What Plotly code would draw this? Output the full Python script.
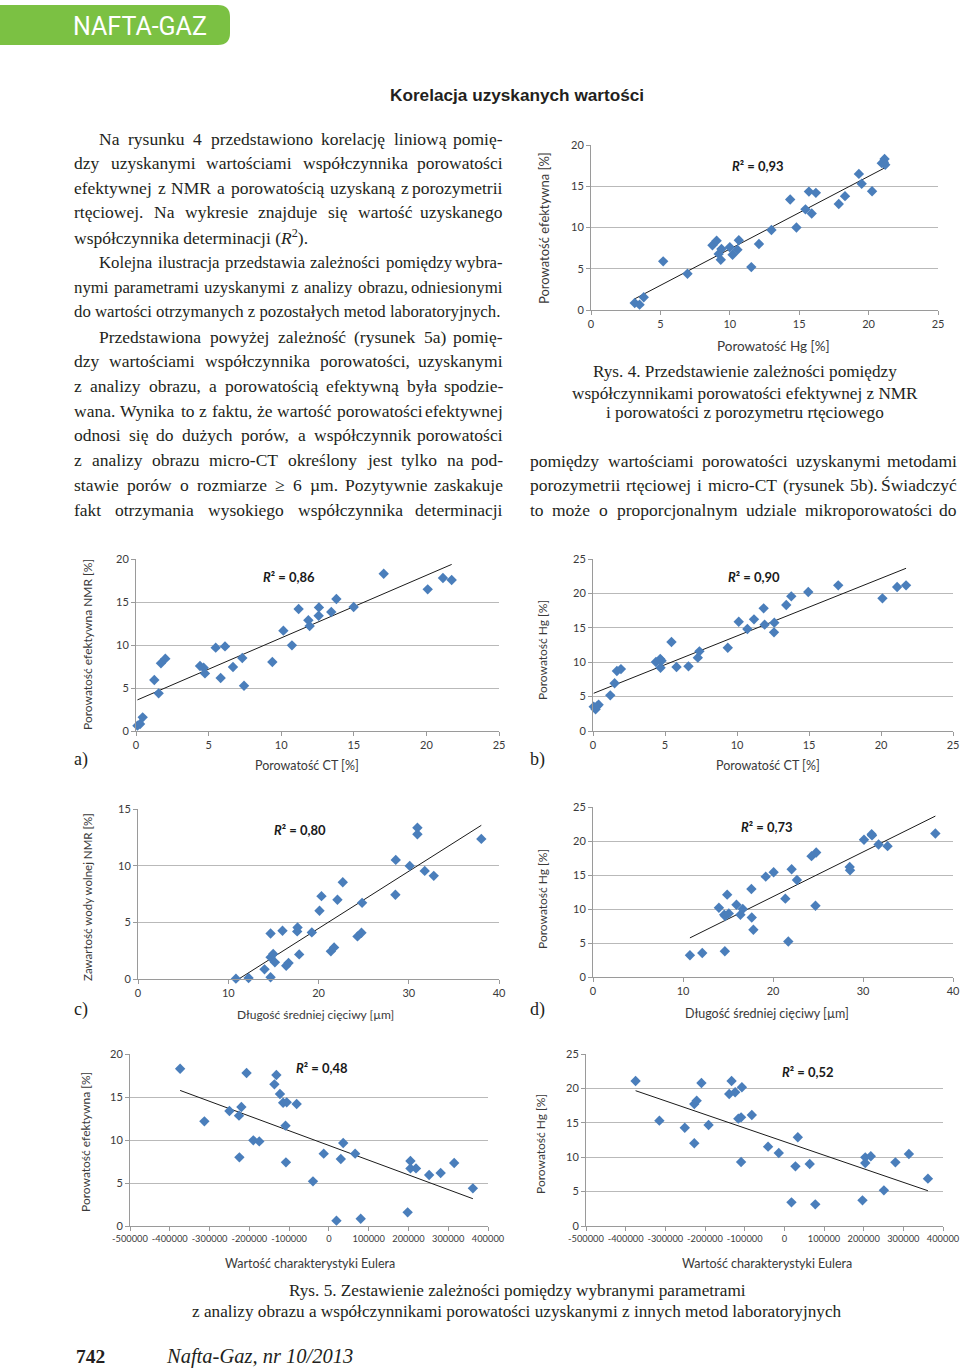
import numpy as np
import plotly.graph_objects as go

W, H = 960, 1370

# ---------------- DATA ----------------
# Rys. 4: porowatość Hg vs porowatość efektywna (NMR)
HG_4 = [3.15, 3.5, 3.8, 5.2, 6.95, 8.75, 9.05, 9.2, 9.35, 9.4, 10.0, 10.2, 10.55, 10.65,
        11.55, 12.1, 13.0, 14.35, 14.8, 15.45, 15.7, 15.9, 16.2, 17.85, 18.3, 19.3, 19.5,
        20.25, 20.95, 21.1, 21.15, 21.2]
EFF_4 = [0.85, 0.65, 1.55, 5.9, 4.4, 7.85, 8.4, 6.8, 6.1, 7.4, 7.6, 6.7, 7.3, 8.45,
         5.2, 8.0, 9.7, 13.4, 10.0, 12.2, 14.35, 11.7, 14.2, 12.85, 13.8, 16.5, 15.3,
         14.4, 17.8, 17.9, 18.3, 17.6]

# Rys. 5a: porowatość CT vs porowatość efektywna NMR
CT_A = [0.1, 0.28, 0.46, 1.26, 1.56, 1.72, 2.02, 4.41, 4.66, 4.75, 5.49, 5.83, 6.13, 6.68,
        7.32, 7.44, 9.39, 10.15, 10.74, 11.2, 11.87, 11.96, 12.58, 12.6, 13.45, 13.8,
        14.99, 17.06, 20.09, 21.14, 21.74]
NMR_A = [0.62, 0.81, 1.59, 5.93, 4.38, 7.87, 8.41, 7.56, 7.36, 6.7, 9.69, 6.16, 9.84, 7.44,
         8.49, 5.27, 8.02, 11.67, 9.96, 14.19, 12.87, 12.2, 13.4, 14.37, 13.84, 15.35,
         14.42, 18.29, 16.47, 17.79, 17.56]

# Rys. 5b: porowatość CT vs porowatość Hg
CT_B = [0.05, 0.18, 0.3, 0.39, 1.2, 1.5, 1.66, 1.94, 4.37, 4.67, 4.69, 4.76, 5.45, 5.8,
        6.63, 7.28, 7.39, 9.36, 10.12, 10.72, 11.18, 11.85, 11.92, 12.57, 12.59, 13.42,
        13.77, 14.95, 17.03, 20.1, 21.12, 21.74]
HG_B = [3.54, 3.15, 3.63, 3.83, 5.18, 6.93, 8.72, 9.0, 10.03, 10.47, 9.2, 10.22, 12.94, 9.3,
        9.4, 10.66, 11.58, 12.11, 15.89, 14.83, 16.23, 17.83, 15.46, 14.34, 15.75, 18.31,
        19.57, 20.2, 21.17, 19.28, 20.93, 21.17]

# Rys. 5c: długość średniej cięciwy vs zawartość wody wolnej NMR
CHORD_C = [10.85, 12.25, 14.02, 14.69, 14.69, 14.69, 14.98, 15.17, 16.01, 16.42, 16.68,
           17.64, 17.68, 17.86, 19.26, 20.11, 20.33, 21.37, 21.73, 22.1, 22.69, 24.32,
           24.76, 24.83, 28.56, 28.52, 30.11, 30.96, 30.96, 31.77, 32.77, 38.04]
WATER_C = [0.03, 0.09, 0.85, 0.15, 4.02, 1.91, 2.2, 1.47, 4.26, 1.17, 1.41, 4.2, 4.55,
           2.17, 4.11, 6.02, 7.31, 2.44, 2.79, 6.99, 8.54, 3.76, 4.08, 6.72, 10.51, 7.43,
           9.98, 13.35, 12.77, 9.54, 9.1, 12.36]

# Rys. 5d: długość średniej cięciwy vs porowatość Hg
CHORD_D = [10.77, 12.14, 13.99, 14.58, 14.65, 14.69, 14.91, 15.09, 15.94, 16.38, 16.64,
           17.6, 17.64, 17.82, 19.19, 20.07, 21.37, 21.7, 22.07, 22.66, 24.28, 24.8,
           24.72, 28.52, 28.56, 30.11, 30.96, 31.0, 31.73, 32.73, 38.04]
HG_D = [3.2, 3.54, 10.19, 9.15, 3.79, 8.96, 12.11, 9.35, 10.63, 9.15, 9.99, 12.94, 8.76,
        6.94, 14.76, 15.4, 11.52, 5.22, 15.85, 14.27, 17.77, 18.31, 10.48, 16.19, 15.7,
        20.18, 21.01, 20.82, 19.49, 19.24, 21.11]

# Rys. 5e: charakterystyka Eulera vs porowatość efektywna
EULER_E = [-374000, -313000, -250000, -226000, -220000, -225000, -207000, -190000, -175000,
           -137000, -132000, -123000, -115000, -106000, -109000, -108000, -81000, -40000,
           -13000, 19000, 30000, 36000, 66000, 80000, 198000, 205000, 205000, 219000,
           252000, 281000, 315000, 362000]
EFF_E = [18.29, 12.17, 13.37, 12.83, 13.84, 7.98, 17.79, 9.96, 9.84, 16.47, 17.56, 15.35,
         14.34, 14.38, 11.67, 7.4, 14.19, 5.19, 8.41, 0.62, 7.79, 9.65, 8.41, 0.85, 1.59,
         7.56, 6.7, 6.7, 5.93, 6.16, 7.33, 4.38]

# Rys. 5f: charakterystyka Eulera vs porowatość Hg
EULER_F = [-375000, -315000, -251000, -227000, -227000, -221000, -209000, -191000, -139000,
           -133000, -124000, -116000, -109000, -109000, -107000, -82000, -41000, -14000,
           18000, 28000, 34000, 64000, 78000, 197000, 204000, 204000, 218000, 251000,
           280000, 314000, 362000]
HG_F = [21.08, 15.31, 14.29, 12.02, 17.73, 18.22, 20.78, 14.68, 19.19, 21.08, 19.43, 15.6,
        15.79, 9.3, 20.16, 16.13, 11.53, 10.61, 3.44, 8.67, 12.89, 9.01, 3.15, 3.73, 9.98,
        9.16, 10.13, 5.18, 9.25, 10.47, 6.88]

EULER_TICKS = [-500000, -400000, -300000, -200000, -100000, 0, 100000, 200000, 300000, 400000]
R2_LABELS = ["0,93", "0,86", "0,90", "0,80", "0,73", "0,48", "0,52"]


# ---------------- HELPERS ----------------
def px(x):
    return x / W


def py(y):
    return 1 - y / H


SANS = "Lato, 'Open Sans', sans-serif"
SERIF = "'Liberation Serif', 'Times New Roman', serif"
MARK = "#4a7ebb"
GRID = "#b9b9b9"
AXL = "#9a9a9a"
TXT = "#231f20"

charts = [
    dict(x=HG_4, y=EFF_4, box=(591, 938, 145, 310), xr=25, xd=5, yr=20, yd=5,
         r2=(758, 166), xt="Porowatość Hg [%]", xtp=(773, 346),
         yt="Porowatość efektywna [%]", ytp=(544, 228), tfs=13.5),
    dict(x=CT_A, y=NMR_A, box=(136, 499, 559, 731), xr=25, xd=5, yr=20, yd=5,
         r2=(289, 577), xt="Porowatość CT [%]", xtp=(307, 765),
         yt="Porowatość efektywna NMR [%]", ytp=(87, 645), tfs=12.5),
    dict(x=CT_B, y=HG_B, box=(593, 953, 559, 731), xr=25, xd=5, yr=25, yd=5,
         r2=(754, 577), xt="Porowatość CT [%]", xtp=(768, 765),
         yt="Porowatość Hg [%]", ytp=(542, 650), tfs=12.5),
    dict(x=CHORD_C, y=WATER_C, box=(138, 499, 809, 979), xr=40, xd=10, yr=15, yd=5,
         r2=(300, 830), xt="Długość średniej cięciwy [µm]", xtp=(315, 1014),
         yt="Zawartość wody wolnej NMR [%]", ytp=(87, 897), tfs=12),
    dict(x=CHORD_D, y=HG_D, box=(593, 953, 807, 977), xr=40, xd=10, yr=25, yd=5,
         r2=(767, 827), xt="Długość średniej cięciwy [µm]", xtp=(767, 1013),
         yt="Porowatość Hg [%]", ytp=(542, 899), tfs=12.5),
    dict(x=EULER_E, y=EFF_E, box=(130, 488, 1054, 1226), xr=None, xd=None, yr=20, yd=5,
         r2=(322, 1068), xt="Wartość charakterystyki Eulera", xtp=(310, 1263),
         yt="Porowatość efektywna [%]", ytp=(85, 1142), tfs=12.5),
    dict(x=EULER_F, y=HG_F, box=(586, 943, 1054, 1226), xr=None, xd=None, yr=25, yd=5,
         r2=(808, 1072), xt="Wartość charakterystyki Eulera", xtp=(767, 1263),
         yt="Porowatość Hg [%]", ytp=(540, 1144), tfs=12.5),
]

fig = go.Figure()
annotations = []
layout_axes = {}


def ann(x, y, text, size, family=SERIF, anchor="left", color=TXT, angle=0):
    annotations.append(dict(x=px(x), y=py(y), xref="paper", yref="paper", text=text,
                            showarrow=False, xanchor=anchor, yanchor="middle",
                            textangle=angle, borderpad=0,
                            font=dict(family=family, size=size, color=color)))


for i, c in enumerate(charts, start=1):
    xa = "x" if i == 1 else f"x{i}"
    ya = "y" if i == 1 else f"y{i}"
    xkey = "xaxis" if i == 1 else f"xaxis{i}"
    ykey = "yaxis" if i == 1 else f"yaxis{i}"
    x0, x1, y0, y1 = c["box"]

    # linear trend line fitted to the data (least squares)
    xs = np.array(c["x"], dtype=float)
    ys = np.array(c["y"], dtype=float)
    k, b = np.polyfit(xs, ys, 1)
    tx = np.array([xs.min(), xs.max()])
    fig.add_trace(go.Scatter(x=tx, y=k * tx + b, mode="lines", xaxis=xa, yaxis=ya,
                             line=dict(color="#1a1a1a", width=1), showlegend=False,
                             hoverinfo="skip", cliponaxis=False))
    fig.add_trace(go.Scatter(x=c["x"], y=c["y"], mode="markers", xaxis=xa, yaxis=ya,
                             marker=dict(symbol="diamond", size=8, color=MARK,
                                         line=dict(width=0)),
                             showlegend=False, cliponaxis=False))

    xaxis = dict(domain=[px(x0), px(x1)], anchor=ya, showgrid=False, zeroline=False,
                 showline=True, linecolor=AXL, linewidth=1, ticks="outside", ticklen=4,
                 tickcolor=AXL, tickangle=0, automargin=False,
                 tickfont=dict(family=SANS, size=11, color="#3a3a3a"), fixedrange=True)
    if c["xr"] is None:
        xaxis.update(range=[EULER_TICKS[0], EULER_TICKS[-1]], tickmode="array",
                     tickvals=EULER_TICKS, ticktext=[str(v) for v in EULER_TICKS],
                     tickfont=dict(family=SANS, size=9.3, color="#3a3a3a"))
    else:
        xaxis.update(range=[0, c["xr"]], tick0=0, dtick=c["xd"])
    yaxis = dict(domain=[py(y1), py(y0)], anchor=xa, range=[0, c["yr"]], tick0=0,
                 dtick=c["yd"], showgrid=True, gridcolor=GRID, gridwidth=1,
                 zeroline=False, showline=True, linecolor=AXL, linewidth=1,
                 ticks="outside", ticklen=4, tickcolor=AXL, automargin=False,
                 tickfont=dict(family=SANS, size=11, color="#3a3a3a"), fixedrange=True)
    layout_axes[xkey] = xaxis
    layout_axes[ykey] = yaxis

    ann(c["r2"][0], c["r2"][1], f"<b><i>R</i>² = {R2_LABELS[i - 1]}</b>", 13, SANS,
        "center", "#1a1a1a")
    ann(c["xtp"][0], c["xtp"][1], c["xt"], c["tfs"], SANS, "center", "#3a3a3a")
    ann(c["ytp"][0], c["ytp"][1], c["yt"], c["tfs"] - 0.5, SANS, "center", "#3a3a3a", -90)

# ---------------- PAGE TEXT (justified like the printed page) ----------------
# Times / Liberation Serif advance widths (1/1000 em)
CW = {" ": 250, ",": 250, ".": 250, "-": 333, "(": 333, ")": 333, "≥": 549, "µ": 500,
      "a": 444, "b": 500, "c": 444, "d": 500, "e": 444, "f": 333, "g": 500, "h": 500,
      "i": 278, "j": 278, "k": 500, "l": 278, "m": 778, "n": 500, "o": 500, "p": 500,
      "q": 500, "r": 333, "s": 389, "t": 278, "u": 500, "v": 500, "w": 722, "x": 500,
      "y": 500, "z": 444, "ą": 444, "ć": 444, "ę": 444, "ł": 278, "ń": 500, "ó": 500,
      "ś": 389, "ź": 444, "ż": 444, "Ś": 556, "C": 667, "K": 722, "M": 889, "N": 722,
      "P": 556, "R": 667, "T": 611, "W": 944}


def text_width(s, size):
    return sum(CW.get(ch, 500) for ch in s) * size / 1000.0


def justified(line, xl, xr, y, size):
    words = line.split(" ")
    widths = [text_width(w, size) for w in words]
    gap = (xr - xl - sum(widths)) / (len(words) - 1)
    x = xl
    for j, (w, wd) in enumerate(zip(words, widths)):
        if j == len(words) - 1:
            ann(xr, y, w, size, anchor="right")
        else:
            ann(x, y, w, size, anchor="left")
        x += wd + gap


# (x_left, x_right, y, text, size, justify)
body_lines = [
    (98, 504, 139, "Na rysunku 4 przedstawiono korelację liniową pomię-", 17.5, True),
    (73, 504, 163, "dzy uzyskanymi wartościami współczynnika porowatości", 17.5, True),
    (73, 504, 188, "efektywnej z NMR a porowatością uzyskaną z porozymetrii", 17.5, True),
    (73, 504, 212, "rtęciowej. Na wykresie znajduje się wartość uzyskanego", 17.5, True),
    (73, 504, 237, "współczynnika determinacji (<i>R</i><sup>2</sup>).", 17.5, False),
    (98, 504, 262, "Kolejna ilustracja przedstawia zależności pomiędzy wybra-", 16.8, True),
    (73, 504, 287, "nymi parametrami uzyskanymi z analizy obrazu, odniesionymi", 16.8, True),
    (73, 504, 311, "do wartości otrzymanych z pozostałych metod laboratoryjnych.", 16.8, False),
    (98, 504, 337, "Przedstawiona powyżej zależność (rysunek 5a) pomię-", 17.5, True),
    (73, 504, 361, "dzy wartościami współczynnika porowatości, uzyskanymi", 17.5, True),
    (73, 504, 386, "z analizy obrazu, a porowatością efektywną była spodzie-", 17.5, True),
    (73, 504, 411, "wana. Wynika to z faktu, że wartość porowatości efektywnej", 17.5, True),
    (73, 504, 435, "odnosi się do dużych porów, a współczynnik porowatości", 17.5, True),
    (73, 504, 460, "z analizy obrazu micro-CT określony jest tylko na pod-", 17.5, True),
    (73, 504, 485, "stawie porów o rozmiarze ≥ 6 µm. Pozytywnie zaskakuje", 17.5, True),
    (73, 504, 510, "fakt otrzymania wysokiego współczynnika determinacji", 17.5, True),
    (529, 958, 461, "pomiędzy wartościami porowatości uzyskanymi metodami", 17.5, True),
    (529, 958, 485, "porozymetrii rtęciowej i micro-CT (rysunek 5b). Świadczyć", 17.5, True),
    (529, 958, 510, "to może o proporcjonalnym udziale mikroporowatości do", 17.5, True),
]
for xl, xr, y, t, s, j in body_lines:
    if j:
        justified(t, xl, xr, y, s)
    else:
        ann(xl, y, t, s)

captions = [
    (745, 372, "Rys. 4. Przedstawienie zależności pomiędzy"),
    (745, 393, "współczynnikami porowatości efektywnej z NMR"),
    (745, 413, "i porowatości z porozymetru rtęciowego"),
    (517, 1290, "Rys. 5. Zestawienie zależności pomiędzy wybranymi parametrami"),
    (517, 1311, "z analizy obrazu a współczynnikami porowatości uzyskanymi z innych metod laboratoryjnych"),
]
for x, y, t in captions:
    ann(x, y, t, 17.2, anchor="center")

for x, y, t in [(81, 759, "a)"), (537, 759, "b)"), (81, 1009, "c)"), (537, 1009, "d)")]:
    ann(x, y, t, 18, anchor="center")

# heading
ann(517, 95, "<b>Korelacja uzyskanych wartości</b>", 17.2,
    "'Liberation Sans', Arial, sans-serif", "center")
# header tab text
ann(140, 26, "NAFTA-GAZ", 25, "Roboto, 'Liberation Sans', sans-serif", "center", "white")
# footer
ann(75, 1356, "<b>742</b>", 19.5)
ann(165, 1356, "<i>Nafta-Gaz, nr 10/2013</i>", 20.5)

# green header tab with rounded right corners
r = 12
pts = [(0, 5), (230 - r, 5), (230, 5), (230, 5 + r), (230, 45 - r), (230, 45),
       (230 - r, 45), (0, 45)]
P = [(px(a), py(b)) for a, b in pts]
path = (f"M {P[0][0]},{P[0][1]} L {P[1][0]},{P[1][1]} Q {P[2][0]},{P[2][1]} {P[3][0]},{P[3][1]} "
        f"L {P[4][0]},{P[4][1]} Q {P[5][0]},{P[5][1]} {P[6][0]},{P[6][1]} L {P[7][0]},{P[7][1]} Z")
shapes = [dict(type="path", xref="paper", yref="paper", path=path, fillcolor="#7bc143",
               line=dict(width=0), layer="below")]

fig.update_layout(width=W, height=H, autosize=False,
                  margin=dict(l=0, r=0, t=0, b=0, pad=0, autoexpand=False),
                  paper_bgcolor="white", plot_bgcolor="white", showlegend=False,
                  annotations=annotations, shapes=shapes, **layout_axes)

fig.write_html("out.html", config={"displayModeBar": False},
               post_script="document.body.style.margin='0';")
